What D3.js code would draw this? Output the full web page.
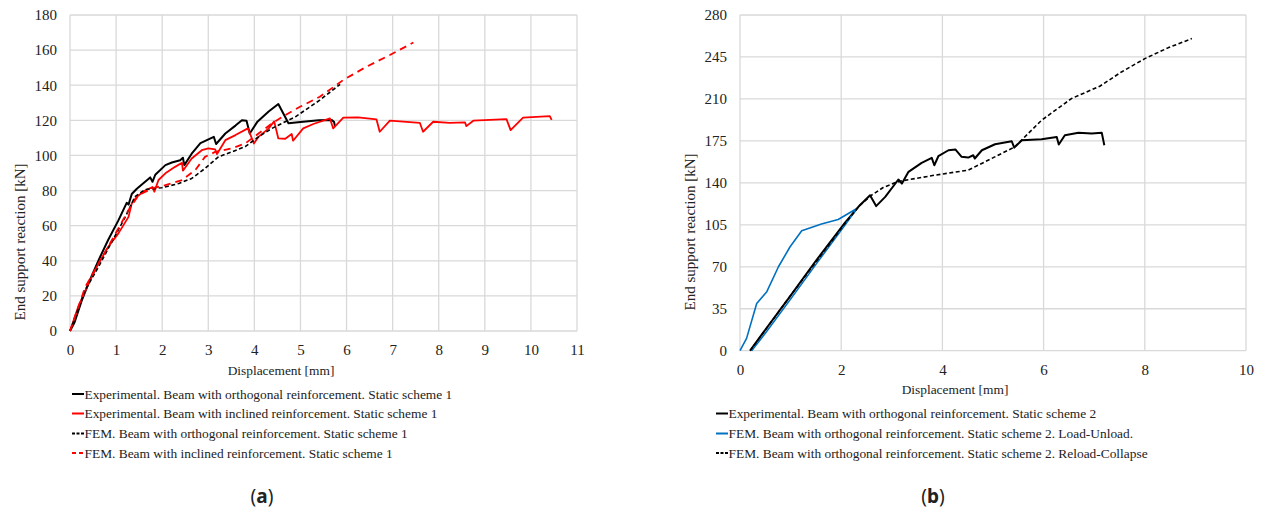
<!DOCTYPE html>
<html><head><meta charset="utf-8">
<script src="https://cdn.jsdelivr.net/npm/d3@7"></script>
<style>
body{margin:0;background:#fff;}
svg{display:block;}
text{font-family:"Liberation Serif","Times New Roman",serif;fill:#222;}
</style></head>
<body>
<svg id="c" width="1262" height="508"></svg>
<script>
// ---------- Chart (a) data ----------
const xTicksA = [0,1,2,3,4,5,6,7,8,9,10,11];
const yTicksA = [0,20,40,60,80,100,120,140,160,180];
const expOrth1 = [[0,0],[0.1,5],[0.25,17],[0.43,29],[0.65,42],[0.83,52],[1.05,63],[1.23,73],[1.27,72],[1.34,78],[1.45,81],[1.63,85],[1.74,87.5],[1.79,85],[1.85,89],[2.07,94.5],[2.21,96],[2.39,97.3],[2.45,98.7],[2.48,94.5],[2.64,101],[2.83,107],[3.12,110.6],[3.17,106.5],[3.37,112.5],[3.59,117],[3.73,120],[3.83,119.7],[3.9,112.5],[4.06,119],[4.31,125],[4.52,129.3],[4.74,118.3],[5.0,119],[5.4,120],[5.68,120.2],[5.73,119],[5.75,116.5]];
const expIncl1 = [[0,0],[0.18,13.9],[0.4,27],[0.62,38.5],[0.83,48],[1.05,55.6],[1.27,65],[1.34,72.7],[1.45,76.5],[1.63,80],[1.79,82],[1.83,79.3],[1.92,86],[2.07,89.8],[2.28,93.5],[2.43,95.8],[2.45,91.3],[2.64,98.3],[2.86,103],[3.0,104],[3.15,103.4],[3.19,100.8],[3.37,108.7],[3.59,111.6],[3.86,115.4],[3.99,106.8],[4.09,110.6],[4.31,115.4],[4.43,119.4],[4.52,109.7],[4.67,109.5],[4.81,112.2],[4.84,108.4],[5.06,115.4],[5.28,117.9],[5.64,121.1],[5.71,115.4],[5.93,121.5],[6.25,121.7],[6.65,120.5],[6.72,113.5],[6.94,119.8],[7.59,118.6],[7.66,113.5],[7.88,119.2],[8.24,118.6],[8.57,118.8],[8.6,116.7],[8.75,119.8],[9.47,120.7],[9.56,114.4],[9.83,121.5],[10.41,122.4],[10.45,120.2]];
const femOrth1 = [[0,0],[0.33,23.3],[0.62,36.6],[0.91,50.9],[1.2,65],[1.41,76.5],[1.63,80.6],[1.99,81.6],[2.36,84],[2.64,86.9],[2.93,92.6],[3.22,99.2],[3.51,102],[3.8,105],[4.09,110.6],[4.38,115.4],[4.67,119.2],[4.89,122],[5.42,131.5],[5.86,140.5]];
const femIncl1 = [[0,0],[0.33,25],[0.62,38.5],[0.91,51.8],[1.27,68.9],[1.49,77.4],[1.78,81.2],[2.07,83.1],[2.43,86],[2.72,91.7],[2.93,99.2],[3.15,102],[3.51,104],[3.8,106.8],[4.09,112.5],[4.38,118.2],[4.67,123],[4.99,127.7],[5.42,133.4],[5.93,143],[6.43,150.5],[6.94,157.2],[7.45,164.3]];
const legendA = [
  "Experimental. Beam with orthogonal reinforcement. Static scheme 1",
  "Experimental. Beam with inclined reinforcement. Static scheme 1",
  "FEM. Beam with orthogonal reinforcement. Static scheme 1",
  "FEM. Beam with inclined reinforcement. Static scheme 1"];

// ---------- Chart (b) data ----------
const xTicksB = [0,2,4,6,8,10];
const yTicksB = [0,35,70,105,140,175,210,245,280];
const expOrth2 = [[0.2,0],[0.5,17.5],[1.0,46],[1.5,75],[2.08,107],[2.34,120],[2.57,129.7],[2.69,120.6],[2.87,128.3],[3.13,142.8],[3.2,139.4],[3.33,149.2],[3.59,156.7],[3.79,160.8],[3.84,154.7],[3.92,162.2],[4.12,167.2],[4.26,167.8],[4.38,161.7],[4.51,161.1],[4.61,163],[4.64,160.3],[4.78,167.2],[5.04,172.2],[5.37,174.7],[5.42,169.4],[5.57,175.6],[5.96,176.4],[6.26,178.3],[6.3,172],[6.42,179.7],[6.69,181.7],[6.95,181.1],[7.15,181.7],[7.2,171.4]];
const femLoadUnload2 = [[0,0],[0.13,10.3],[0.33,39.4],[0.53,49.2],[0.76,70],[0.99,86.7],[1.22,100],[1.61,105.6],[1.94,109.4],[2.31,118.6],[2.1,106.3],[1.5,72],[1.0,43],[0.5,14.5],[0.23,0]];
const femReload2 = [[0.2,0],[1.0,46],[2.1,107.5],[2.37,121.4],[2.6,129.7],[2.83,136.1],[3.06,140],[3.2,141.7],[3.85,146.4],[4.51,150.6],[4.84,157.5],[5.43,170],[5.96,192.2],[6.55,210.3],[7.11,220.6],[7.54,232.5],[8.0,243.6],[8.47,252.8],[8.93,260.3]];
const legendB = [
  "Experimental. Beam with orthogonal reinforcement. Static scheme 2",
  "FEM. Beam with orthogonal reinforcement. Static scheme 2. Load-Unload.",
  "FEM. Beam with orthogonal reinforcement. Static scheme 2. Reload-Collapse"];

const svg = d3.select("#c");
const GRID = "#d9d9d9";

function panel(cfg){
  const g = svg.append("g");
  const x = d3.scaleLinear().domain(cfg.xDom).range(cfg.xRange);
  const y = d3.scaleLinear().domain(cfg.yDom).range(cfg.yRange);
  // gridlines
  g.append("g").selectAll("line").data(cfg.yTicks).join("line")
    .attr("x1",x(cfg.xDom[0])).attr("x2",x(cfg.xDom[1]))
    .attr("y1",d=>y(d)).attr("y2",d=>y(d)).attr("stroke",GRID).attr("stroke-width",1.3);
  g.append("g").selectAll("line").data(cfg.xTicks).join("line")
    .attr("y1",y(cfg.yDom[0])).attr("y2",y(cfg.yDom[1]))
    .attr("x1",d=>x(d)).attr("x2",d=>x(d)).attr("stroke",GRID).attr("stroke-width",1.3);
  // axes (labels only) using d3 axes
  const ya = d3.axisLeft(y).tickValues(cfg.yTicks).tickSize(0).tickPadding(0).tickFormat(d3.format("d"));
  const yg = g.append("g").attr("transform",`translate(${cfg.yLabelX},0)`).call(ya);
  yg.select(".domain").remove();
  yg.selectAll("text").attr("font-family","Liberation Serif").attr("font-size",15).attr("fill","#222");
  const xa = d3.axisBottom(x).tickValues(cfg.xTicks).tickSize(0).tickPadding(0).tickFormat(d3.format("d"));
  const xg = g.append("g").attr("transform",`translate(0,${cfg.xLabelY})`).call(xa);
  xg.select(".domain").remove();
  xg.selectAll("text").attr("font-family","Liberation Serif").attr("font-size",15).attr("fill","#222").attr("dy","0.35em");
  // axis titles
  g.append("text").attr("x",cfg.xTitle[0]).attr("y",cfg.xTitle[1]).attr("text-anchor","middle")
    .attr("dominant-baseline","central").attr("font-size",13.4).text("Displacement [mm]");
  g.append("text").attr("transform",`translate(${cfg.yTitle[0]},${cfg.yTitle[1]}) rotate(-90)`)
    .attr("text-anchor","middle").attr("dominant-baseline","central").attr("font-size",15)
    .text("End support reaction [kN]");
  // series
  const line = d3.line().x(d=>x(d[0])).y(d=>y(d[1]));
  cfg.series.forEach(s=>{
    g.append("path").datum(s.data).attr("d",line).attr("fill","none")
      .attr("stroke",s.color).attr("stroke-width",s.w).attr("stroke-dasharray",s.dash||null)
      .attr("stroke-linejoin","round");
  });
  // legend
  cfg.series.forEach((s,i)=>{
    const ly = cfg.legY[i];
    const lx = cfg.legX;
    g.append("line").attr("x1",lx).attr("x2",lx+12).attr("y1",ly).attr("y2",ly)
      .attr("stroke",s.color).attr("stroke-width",2).attr("stroke-dasharray",s.legDash||null);
    g.append("text").attr("x",lx+12.5).attr("y",ly).attr("dominant-baseline","central")
      .attr("font-size",13.4).text(s.label);
  });
  // caption
  const cap = g.append("text").attr("x",cfg.cap[0]).attr("y",cfg.cap[1]).attr("text-anchor","middle")
    .attr("dominant-baseline","central").attr("font-size",19)
    .style("font-family","'Noto Sans',sans-serif");
  cap.append("tspan").text("(");
  cap.append("tspan").attr("font-weight","bold").text(cfg.capLetter);
  cap.append("tspan").text(")");
}

panel({
  xDom:[0,11], xRange:[70,577], yDom:[0,180], yRange:[331,15],
  xTicks:xTicksA, yTicks:yTicksA, yLabelX:57, xLabelY:350,
  xTitle:[281,370], yTitle:[20,242],
  legX:72, legY:[394,413.5,433.5,453],
  cap:[262,496], capLetter:"a",
  series:[
    {data:expOrth1,color:"#000",w:2,label:legendA[0]},
    {data:expIncl1,color:"#ff0000",w:1.8,label:legendA[1]},
    {data:femOrth1,color:"#000",w:1.6,dash:"4,2.5",legDash:"3,1.5",label:legendA[2]},
    {data:femIncl1,color:"#ff0000",w:1.8,dash:"7,5",legDash:"4,3",label:legendA[3]}
  ]
});

panel({
  xDom:[0,10], xRange:[740,1246], yDom:[0,280], yRange:[350.7,15],
  xTicks:xTicksB, yTicks:yTicksB, yLabelX:727, xLabelY:370,
  xTitle:[955,389], yTitle:[690,232],
  legX:716, legY:[413.5,433.5,453],
  cap:[933,496], capLetter:"b",
  series:[
    {data:expOrth2,color:"#000",w:2,label:legendB[0]},
    {data:femLoadUnload2,color:"#0070c0",w:1.6,label:legendB[1]},
    {data:femReload2,color:"#000",w:1.6,dash:"4,2.5",legDash:"3,1.5",label:legendB[2]}
  ]
});
</script>
</body></html>
